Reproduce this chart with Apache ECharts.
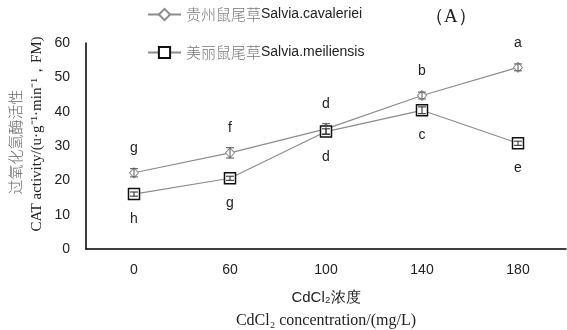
<!DOCTYPE html>
<html>
<head>
<meta charset="utf-8">
<script src="https://cdn.jsdelivr.net/npm/echarts@6/dist/echarts.min.js"></script>
<style>
  html, body { margin: 0; padding: 0; background: #fff; }
  #chart { width: 567px; height: 330px; }
</style>
</head>
<body>
<div id="chart"></div>
<script>
// CdCl2 concentration (mg/L)
const categories = ["0", "60", "100", "140", "180"];
const yTicks = [0, 10, 20, 30, 40, 50, 60];

const nameCav = "贵州鼠尾草|Salvia.cavaleriei";
const nameMei = "美丽鼠尾草|Salvia.meiliensis";

// CAT activity, mean and error
const cavaleriei = [22.2, 28.0, 35.0, 44.7, 52.9];
const cavErr = [1.2, 1.5, 1.5, 1.0, 1.0];
const cavLetters = ["g", "f", "d", "b", "a"];

const meiliensis = [16.0, 20.6, 34.2, 40.4, 30.8];
const meiErr = [0.6, 0.6, 0.8, 1.0, 0.6];
const meiLetters = ["h", "g", "d", "c", "e"];

const chart = echarts.init(document.getElementById("chart"));

const errData = (vals, errs) => vals.map((v, i) => [i, v - errs[i], v + errs[i]]);

// Error bars: vertical whisker with short caps
const errorSeries = (vals, errs, color) => ({
    type: "custom",
    z: 5,
    silent: true,
    data: errData(vals, errs),
    renderItem: (params, api) => {
        const lo = api.coord([api.value(0), api.value(1)]);
        const hi = api.coord([api.value(0), api.value(2)]);
        const w = 4;
        const style = { stroke: color, lineWidth: 1 };
        return {
            type: "group",
            children: [
                { type: "line", shape: { x1: lo[0], y1: lo[1], x2: hi[0], y2: hi[1] }, style },
                { type: "line", shape: { x1: lo[0] - w, y1: lo[1], x2: lo[0] + w, y2: lo[1] }, style },
                { type: "line", shape: { x1: hi[0] - w, y1: hi[1], x2: hi[0] + w, y2: hi[1] }, style },
            ],
        };
    },
});

const legendRich = {
    cn: { fontFamily: "Noto Sans CJK SC", fontSize: 15, color: "#777", fontWeight: 300 },
    en: { fontFamily: "Liberation Sans", fontSize: 14, color: "#222" },
};

chart.setOption({
    animation: false,
    backgroundColor: "#fff",
    grid: { left: 86, right: 1, top: 43, bottom: 81 },
    legend: {
        orient: "vertical",
        left: 142,
        top: 2,
        itemGap: 23,
        itemWidth: 33,
        itemHeight: 14,
        data: [nameCav, nameMei],
        formatter: (n) => {
            const [cn, en] = n.split("|");
            return `{cn|${cn}}{en|${en}}`;
        },
        textStyle: { rich: legendRich },
    },
    xAxis: {
        type: "category",
        data: categories,
        boundaryGap: true,
        axisLine: { lineStyle: { color: "#000", width: 1.5 } },
        axisTick: { show: false },
        axisLabel: { color: "#222", fontSize: 14, fontFamily: "Liberation Sans", margin: 14 },
    },
    yAxis: {
        type: "value",
        min: yTicks[0],
        max: yTicks[yTicks.length - 1],
        interval: 10,
        axisLine: { show: true, lineStyle: { color: "#000", width: 1.5 } },
        axisTick: { show: false },
        splitLine: { show: false },
        axisLabel: { color: "#222", fontSize: 14, fontFamily: "Liberation Sans", margin: 16 },
    },
    series: [
        {
            name: nameCav,
            type: "line",
            data: cavaleriei,
            symbol: "diamond",
            symbolSize: [9, 10],
            z: 3,
            lineStyle: { color: "#8c8c8c", width: 1.2 },
            itemStyle: { color: "#fff", borderColor: "#8c8c8c", borderWidth: 1 },
            label: {
                show: true,
                position: "top",
                distance: 12,
                formatter: (p) => cavLetters[p.dataIndex],
                fontFamily: "Liberation Sans",
                fontSize: 14,
                color: "#222",
            },
        },
        {
            name: nameMei,
            type: "line",
            data: meiliensis,
            symbol: "rect",
            symbolSize: 11,
            z: 4,
            lineStyle: { color: "#8c8c8c", width: 1.2 },
            itemStyle: { color: "#fff", borderColor: "#111", borderWidth: 1.5 },
            label: {
                show: true,
                position: "bottom",
                distance: 12,
                formatter: (p) => meiLetters[p.dataIndex],
                fontFamily: "Liberation Sans",
                fontSize: 14,
                color: "#222",
            },
        },
        errorSeries(cavaleriei, cavErr, "#555"),
        errorSeries(meiliensis, meiErr, "#222"),
    ],
    graphic: [
        {
            type: "text", left: 425, top: 8,
            style: { text: "（A）", font: "19px 'Liberation Serif'", fill: "#222" },
        },
        {
            type: "text", x: 15, y: 142, rotation: Math.PI / 2,
            style: { text: "过氧化氢酶活性", font: "300 15px 'Noto Sans CJK SC'", fill: "#666", align: "center", verticalAlign: "middle" },
        },
        {
            type: "text", x: 37, y: 134, rotation: Math.PI / 2,
            style: { text: "CAT activity/(u·g⁻¹·min⁻¹，FM)", font: "15px 'Liberation Serif'", fill: "#222", align: "center", verticalAlign: "middle" },
        },
        {
            type: "text", x: 326, y: 298,
            style: { text: "CdCl₂浓度", font: "15px 'Liberation Sans'", fill: "#222", align: "center", verticalAlign: "middle" },
        },
        {
            type: "text", x: 326, y: 321,
            style: { text: "CdCl₂ concentration/(mg/L)", font: "16px 'Liberation Serif'", fill: "#222", align: "center", verticalAlign: "middle" },
        },
    ],
});
</script>
</body>
</html>
